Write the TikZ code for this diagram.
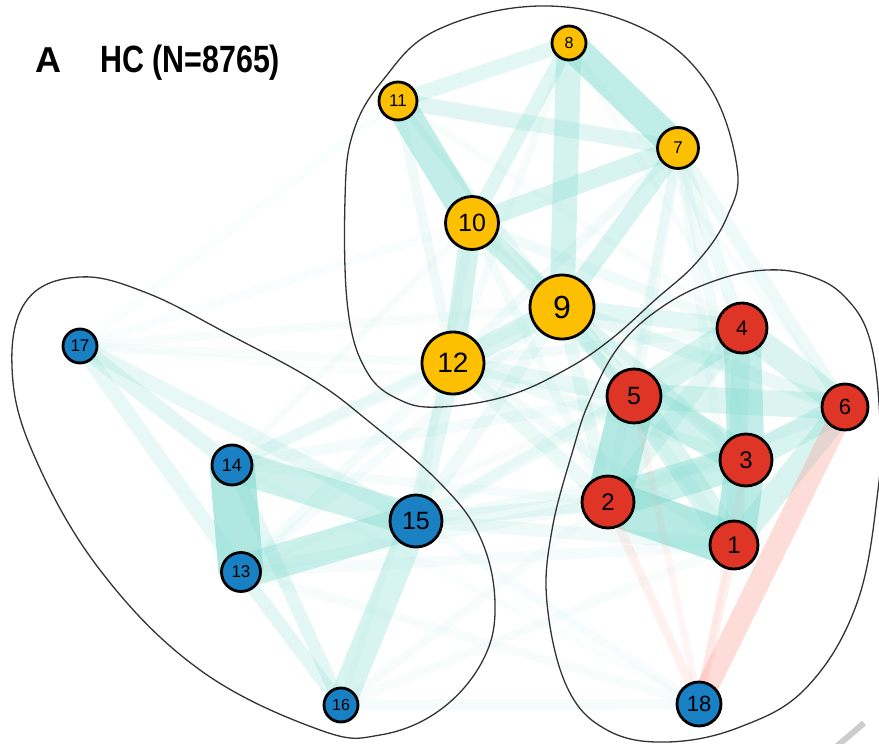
\documentclass[tikz,border=0pt]{standalone}
\usepackage{fontspec}
\setmainfont{Liberation Sans}
\newfontfamily\titlefont[FakeStretch=0.8]{Liberation Sans}
\pgfdeclarelayer{bg}
\pgfsetlayers{bg,main}
\definecolor{tealb}{RGB}{128,218,207}
\definecolor{pinkb}{RGB}{252,160,150}
\definecolor{yel}{RGB}{253,192,0}
\definecolor{redn}{RGB}{223,53,38}
\definecolor{blun}{RGB}{26,128,196}
\tikzset{
  vtx/.style={circle, draw=black, line width=2.8pt, inner sep=0pt, text=black},
  hull/.style={draw=black!80, line width=1.3pt},
}
\newcommand{\nd}[6]{\node[vtx, fill=#4, minimum size=#5pt, font=\fontsize{#6}{#6}\selectfont] (n#1) at (#2,#3) {#1};}
\newcommand{\te}[4]{\pgfmathsetmacro\eop{#4*0.8}\draw[line width=#3pt, draw=tealb, draw opacity=\eop] (n#1.center) -- (n#2.center);}
\newcommand{\pe}[4]{\pgfmathsetmacro\eop{#4}\draw[line width=#3pt, draw=pinkb, draw opacity=\eop] (n#1.center) -- (n#2.center);}
\begin{document}
\begin{tikzpicture}[x=1pt,y=-1pt]
\useasboundingbox (0,0) rectangle (879,744);
% hulls
\draw[hull] plot[smooth cycle, tension=0.65] coordinates {(540,6) (640,27) (707,83) (737,167) (727,217) (697,262) (655,300) (610,340) (565,370) (507,396) (440,407) (400,400) (367,372) (348,310) (345,200) (353,133) (383,80) (437,30)};
\draw[hull] plot[smooth cycle, tension=0.65] coordinates {(573,450) (590,400) (620,345) (665,305) (717,280) (767,270) (810,276) (845,297) (870,340) (880,420) (878,490) (857,603) (807,687) (740,727) (667,742) (607,730) (567,687) (547,603) (552,530)};
\draw[hull] plot[smooth cycle, tension=0.65] coordinates {(80,277) (147,293) (230,335) (313,380) (367,420) (440,483) (480,537) (495,603) (483,660) (440,710) (380,735) (320,730) (200,670) (100,570) (33,453) (12,367) (27,300)};
% nodes
\nd{1}{734}{545}{redn}{48}{24}
\nd{2}{608}{502}{redn}{52}{24}
\nd{3}{746}{460}{redn}{52}{24}
\nd{4}{742}{328}{redn}{50}{21}
\nd{5}{634}{396}{redn}{54}{25}
\nd{6}{845}{407}{redn}{46}{22}
\nd{7}{678}{148}{yel}{41}{17}
\nd{8}{569}{43}{yel}{34}{16}
\nd{9}{562}{307}{yel}{64}{32}
\nd{10}{472}{223}{yel}{53}{25}
\nd{11}{398}{101}{yel}{38}{17}
\nd{12}{453}{363}{yel}{62}{28}
\nd{13}{241}{572}{blun}{39}{17}
\nd{14}{232}{465}{blun}{40}{18}
\nd{15}{416}{521}{blun}{52}{25}
\nd{16}{341}{705}{blun}{34}{16}
\nd{17}{80}{346}{blun}{34}{17}
\nd{18}{699}{704}{blun}{44}{22}
% title
\node[anchor=base west, font=\fontsize{36}{36}\selectfont\bfseries, inner sep=0pt] (lblA) at (35,72) {A};
\node[anchor=base west, font=\titlefont\fontsize{38}{38}\selectfont\bfseries, inner sep=0pt] (ttl) at (100,72) {HC (N=8765)};
% watermark stroke
\draw[black!20, line width=6pt] (836,747) -- (864,723);
\begin{pgfonlayer}{bg}
% yellow cluster
\te{8}{7}{30}{.62}
\te{11}{10}{30}{.6}
\te{8}{9}{25}{.42}
\te{8}{11}{15}{.28}
\te{11}{7}{16}{.3}
\te{10}{7}{19}{.38}
\te{10}{8}{14}{.32}
\te{9}{7}{17}{.38}
\te{10}{9}{19}{.38}
\te{10}{12}{21}{.42}
\te{11}{12}{10}{.16}
\te{11}{9}{8}{.13}
\te{12}{9}{21}{.35}
\te{12}{7}{10}{.13}
\te{12}{8}{8}{.09}
% red cluster
\te{5}{2}{44}{.74}
\te{2}{1}{44}{.72}
\te{4}{3}{37}{.6}
\te{3}{1}{40}{.66}
\te{5}{3}{34}{.45}
\te{5}{1}{26}{.35}
\te{2}{3}{34}{.52}
\te{4}{6}{26}{.36}
\te{3}{6}{26}{.38}
\te{6}{1}{24}{.38}
\te{4}{5}{30}{.38}
\te{5}{6}{26}{.36}
\te{2}{4}{18}{.26}
\te{4}{1}{18}{.26}
\te{2}{6}{12}{.16}
% blue cluster
\te{14}{13}{45}{.78}
\te{14}{15}{33}{.48}
\te{13}{15}{34}{.5}
\te{17}{14}{15}{.26}
\te{17}{13}{15}{.23}
\te{17}{15}{15}{.23}
\te{16}{15}{28}{.38}
\te{16}{14}{13}{.28}
\te{16}{13}{13}{.28}
\te{16}{18}{11}{.1}
% cross
\te{12}{15}{19}{.25}
\te{12}{14}{12}{.13}
\te{12}{13}{10}{.11}
\te{12}{5}{17}{.24}
\te{12}{2}{15}{.2}
\te{12}{1}{11}{.13}
\te{12}{3}{12}{.15}
\te{12}{4}{10}{.13}
\te{9}{5}{19}{.28}
\te{9}{4}{17}{.28}
\te{9}{3}{15}{.23}
\te{9}{2}{13}{.2}
\te{9}{1}{11}{.15}
\te{9}{6}{14}{.22}
\te{10}{5}{11}{.16}
\te{10}{4}{11}{.14}
\te{10}{3}{9}{.12}
\te{10}{2}{9}{.11}
\te{10}{15}{9}{.11}
\te{7}{4}{13}{.18}
\te{7}{6}{13}{.18}
\te{7}{3}{11}{.13}
\te{7}{5}{11}{.13}
\te{7}{1}{9}{.1}
\te{7}{2}{9}{.1}
\te{11}{4}{6}{.07}
\te{11}{5}{6}{.07}
\te{8}{4}{6}{.07}
\te{8}{6}{6}{.07}
\te{15}{2}{15}{.2}
\te{15}{1}{13}{.15}
\te{15}{5}{13}{.15}
\te{15}{3}{11}{.12}
\te{15}{9}{13}{.15}
\te{15}{4}{9}{.09}
\te{15}{18}{9}{.08}
\te{13}{2}{11}{.12}
\te{13}{1}{11}{.1}
\te{13}{18}{9}{.07}
\te{14}{5}{11}{.12}
\te{14}{9}{11}{.12}
\te{14}{2}{9}{.09}
\te{14}{10}{7}{.07}
\te{14}{18}{7}{.05}
\te{16}{2}{9}{.07}
\te{16}{1}{9}{.07}
\te{16}{12}{7}{.07}
\te{17}{9}{9}{.07}
\te{17}{12}{9}{.07}
\te{17}{10}{9}{.06}
\te{17}{11}{9}{.05}
\te{17}{5}{7}{.05}
\te{13}{9}{9}{.1}
\te{13}{5}{7}{.07}
% pink (on top of teal)
\pe{18}{6}{22}{.36}
\pe{18}{1}{9}{.16}
\pe{18}{2}{9}{.15}
\pe{18}{5}{7}{.1}
\pe{18}{3}{7}{.1}
\end{pgfonlayer}
\end{tikzpicture}
\end{document}
